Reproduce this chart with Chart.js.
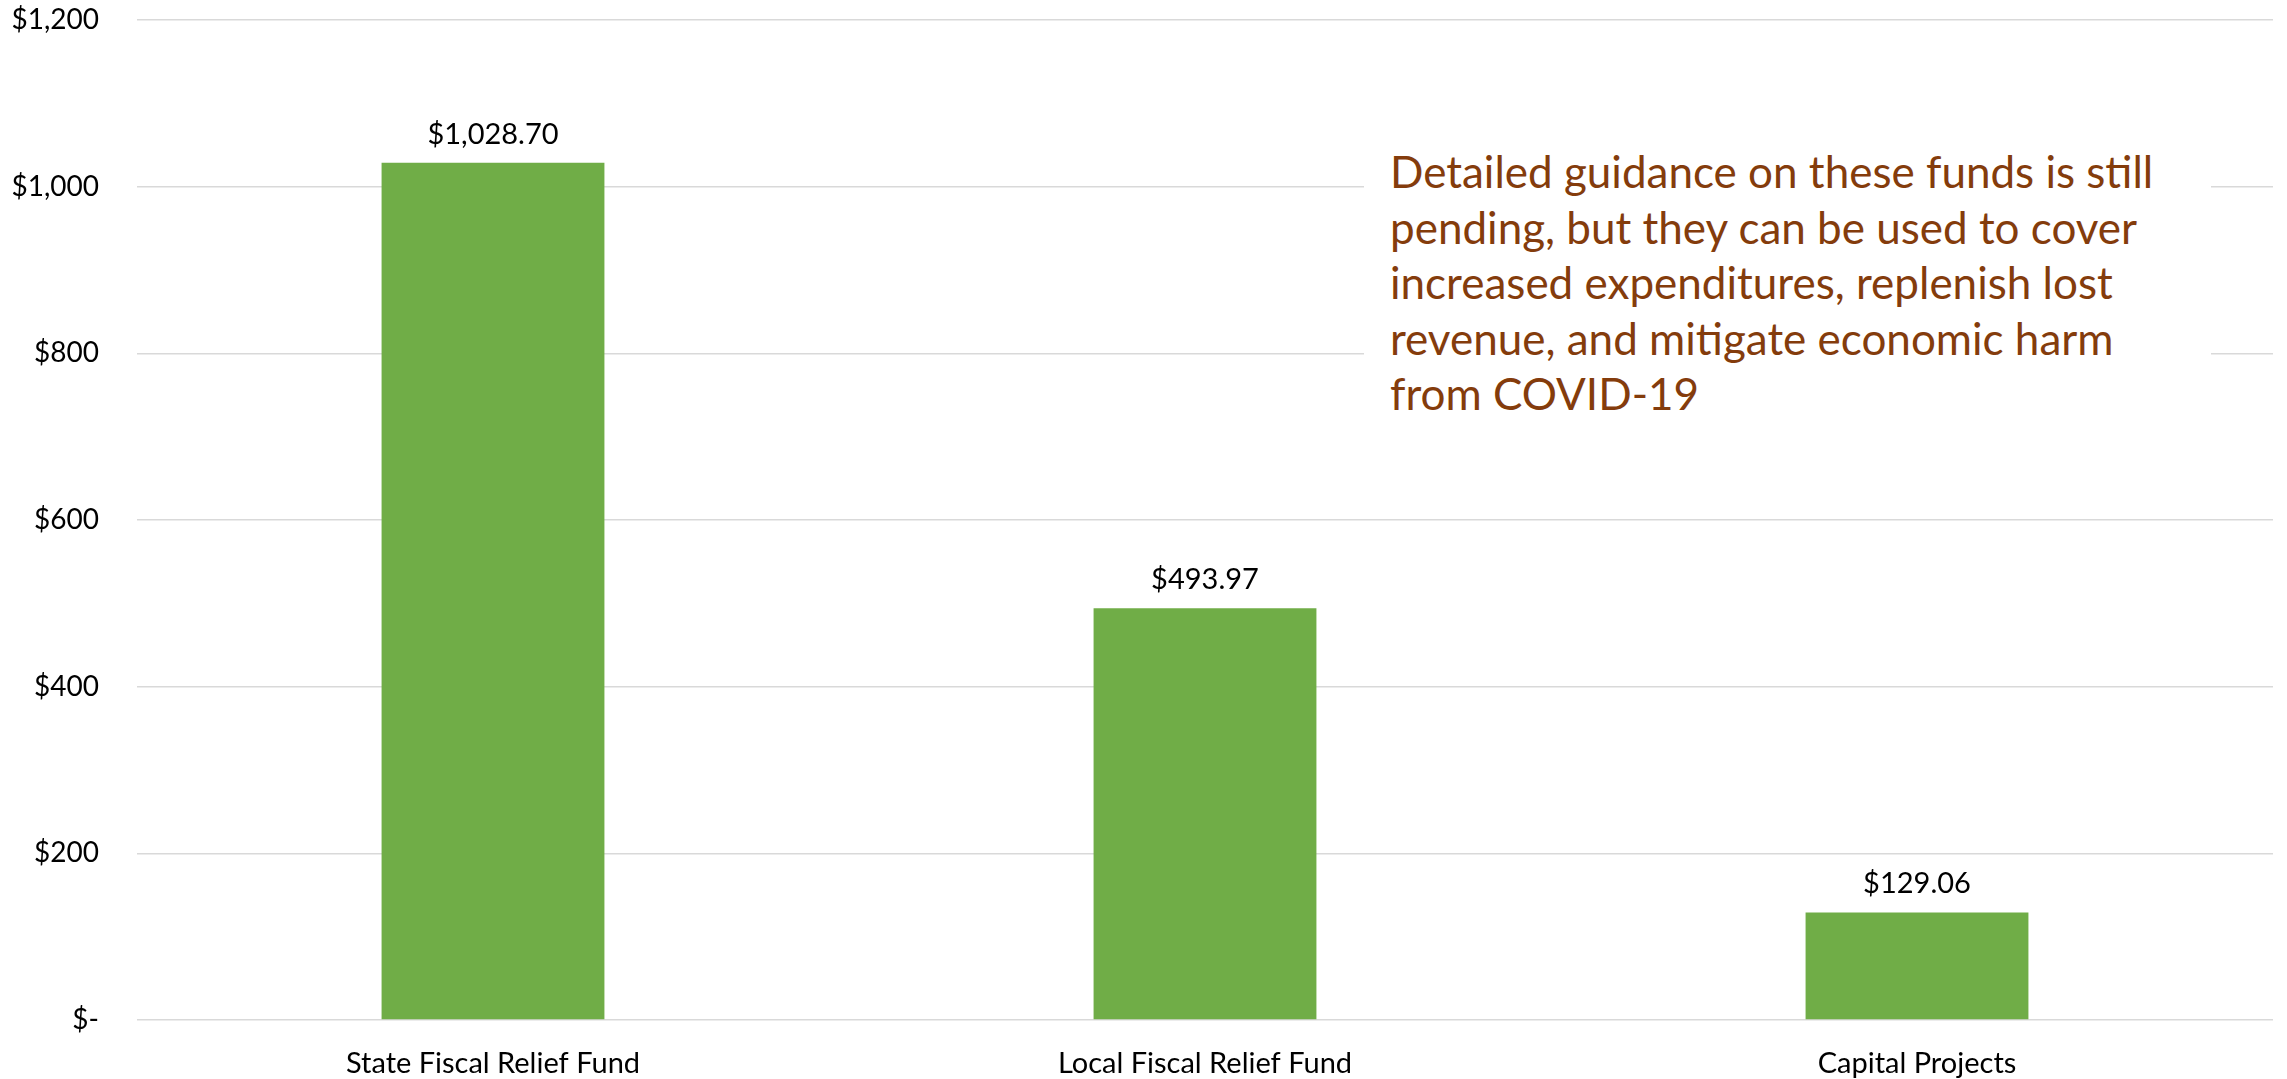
<!DOCTYPE html>
<html>
<head>
<meta charset="utf-8">
<script src="https://cdn.jsdelivr.net/npm/chart.js@4"></script>
<style>
    html, body { margin: 0; padding: 0; background: #fff; }
    #wrap { position: relative; width: 2287px; height: 1079px; }
    #note {
        position: absolute; left: 1364px; top: 134px; width: 821px;
        padding: 10px 0 10px 26px; background: #fff;
        font-family: 'Lato', sans-serif; font-size: 44px; line-height: 55.5px;
        color: #843C0C; white-space: nowrap;
    }
</style>
</head>
<body>
<div id="wrap">
    <canvas id="fundsChart" width="2287" height="1079"></canvas>
    <div id="note">Detailed guidance on these funds is still<br>pending, but they can be used to cover<br>increased expenditures, replenish lost<br>revenue, and mitigate economic harm<br>from COVID-19</div>
</div>
<script>
const categories = ['State Fiscal Relief Fund', 'Local Fiscal Relief Fund', 'Capital Projects'];
const amounts = [1028.70, 493.97, 129.06];
const yTicks = [0, 200, 400, 600, 800, 1000, 1200];

function money(value) {
    if (value === 0) return '$-';
    return '$' + value.toLocaleString('en-US');
}

// Value labels above each bar
const barLabels = {
    id: 'barLabels',
    afterDatasetsDraw(chart) {
        const ctx = chart.ctx;
        const meta = chart.getDatasetMeta(0);
        ctx.save();
        ctx.font = "29px 'Lato', sans-serif";
        ctx.fillStyle = '#000';
        ctx.textAlign = 'center';
        ctx.textBaseline = 'bottom';
        meta.data.forEach(function(bar, i) {
            const txt = '$' + amounts[i].toLocaleString('en-US', { minimumFractionDigits: 2, maximumFractionDigits: 2 });
            ctx.fillText(txt, bar.x, bar.y - 14);
        });
        ctx.restore();
    }
};

Chart.defaults.font.family = "'Lato', sans-serif";
Chart.defaults.font.size = 28;
Chart.defaults.color = '#000';

new Chart(document.getElementById('fundsChart'), {
    type: 'bar',
    data: {
        labels: categories,
        datasets: [{
            data: amounts,
            backgroundColor: '#70AD47',
            borderWidth: 0,
            categoryPercentage: 1,
            barPercentage: 0.313
        }]
    },
    options: {
        responsive: false,
        animation: false,
        layout: { padding: { top: 20, right: 14, left: 0, bottom: 0 } },
        plugins: {
            legend: { display: false },
            tooltip: { enabled: false }
        },
        scales: {
            x: {
                grid: { display: false },
                border: { display: false },
                ticks: { padding: 18, font: { size: 29 } },
                afterFit: function(scale) { scale.height = 59; }
            },
            y: {
                min: 0,
                max: 1200,
                afterBuildTicks: function(scale) {
                    scale.ticks = yTicks.map(v => ({ value: v }));
                },
                grid: { color: '#d9d9d9', lineWidth: 1.5, drawTicks: false },
                border: { display: false },
                ticks: {
                    padding: 38,
                    callback: function(value) { return money(value); }
                },
                afterFit: function(scale) {
                    scale.width = 137;
                    scale.paddingTop = 0;
                    scale.paddingBottom = 0;
                }
            }
        }
    },
    plugins: [barLabels]
});
</script>
</body>
</html>
